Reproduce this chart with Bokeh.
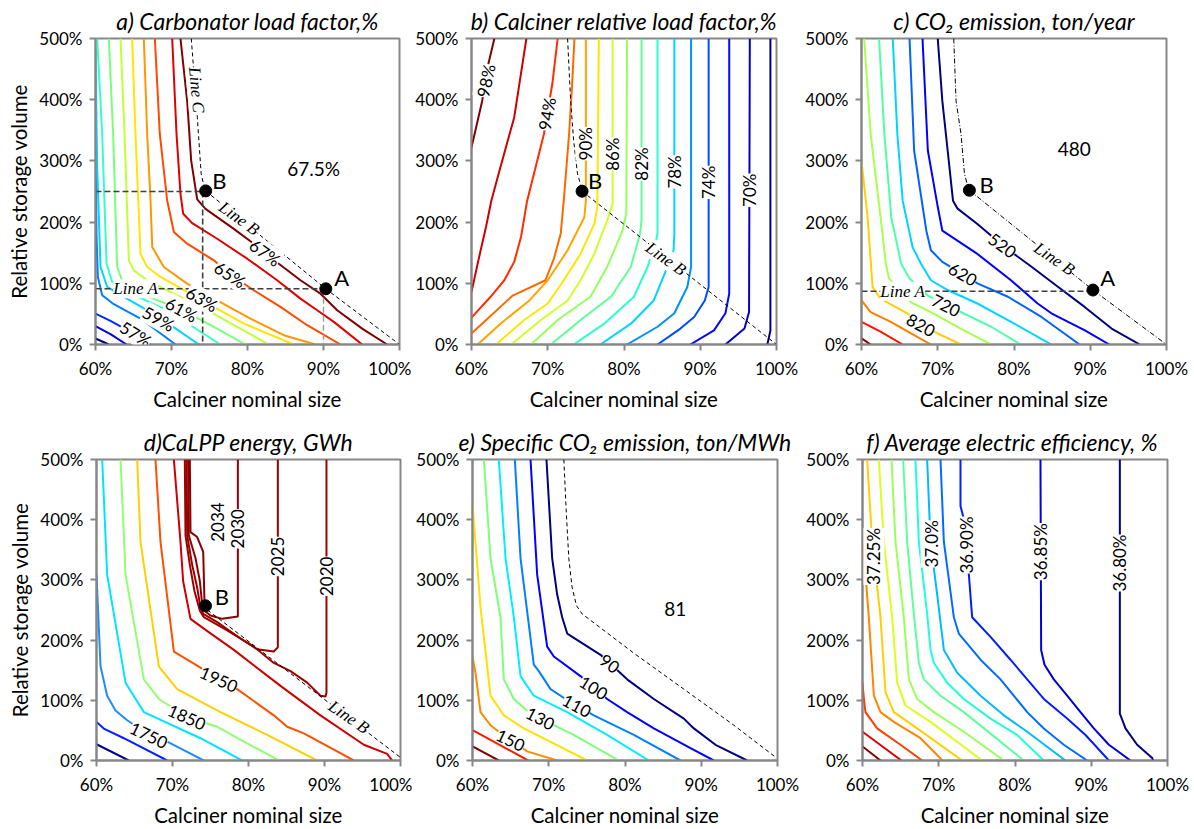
import math
from bokeh.plotting import figure
from bokeh.models import ColumnDataSource, LabelSet, Range1d, FixedTicker
from bokeh.layouts import column, row
from bokeh.embed import file_html
from bokeh.resources import INLINE
from bokeh.core.properties import value

SANS = "Lato"
SERIF = "Liberation Serif"
GRAY = "#878787"
V = math.pi / 2

X_TICKS = [60, 70, 80, 90, 100]
X_TICK_LABELS = ["60%", "70%", "80%", "90%", "100%"]
Y_TICKS = [0, 100, 200, 300, 400, 500]
Y_TICK_LABELS = ["0%", "100%", "200%", "300%", "400%", "500%"]
X_TITLE = "Calciner nominal size"
Y_TITLE = "Relative storage volume"
TITLES = ["a) Carbonator load factor,%", "b) Calciner relative load factor,%",
          "c) CO\u2082 emission, ton/year", "d)CaLPP energy, GWh",
          "e) Specific CO\u2082 emission, ton/MWh", "f) Average electric  efficiency, %"]

# ---------------- panel a : carbonator load factor (levels 55..67 %) ----------------
A_LEVELS = [55, 56, 57, 58, 59, 60, 61, 62, 63, 64, 65, 66, 67]
A_COLORS = ["#00007F", "#0000E0", "#002BFF", "#0080FF", "#00D4FF", "#36FFC6", "#7BFF7B",
            "#C1FF36", "#FFE500", "#FF9700", "#FF4A00", "#E00000", "#7F0000"]
A_X = [
    [60.0, 61.75],
    [60.0, 61.97, 64.1],
    [60.0, 61.97, 64.17, 67.24],
    [60.0, 60.13, 60.31, 60.88, 62.41, 65.92, 70.53],
    [60.0, 60.22, 60.66, 61.54, 63.73, 68.33, 73.6],
    [60.22, 60.88, 61.45, 62.19, 64.17, 69.43, 76.45],
    [61.75, 62.32, 62.85, 63.51, 65.92, 71.32, 75.57, 79.74],
    [63.29, 63.82, 64.39, 65.04, 66.8, 70.31, 74.69, 82.81],
    [64.82, 65.26, 65.92, 66.8, 68.55, 72.06, 75.57, 79.52, 86.1],
    [66.36, 66.8, 67.24, 67.46, 68.99, 72.06, 76.01, 80.39, 84.78, 88.95],
    [67.81, 68.46, 69.43, 70.31, 72.06, 75.57, 77.76, 80.83, 84.34, 87.85, 92.24],
    [70.09, 70.66, 71.18, 71.54, 72.72, 76.01, 79.96, 83.9, 86.97, 89.17, 91.36, 95.09],
    [71.18, 72.06, 72.59, 73.38, 74.47, 78.2, 80.83, 84.12, 86.97, 89.6, 91.8, 95.09, 98.38],
]
A_Y = [
    [9.8, 0],
    [29.9, 16.8, 0],
    [50.5, 38.6, 23.4, 0],
    [349.5, 181, 110.3, 80.4, 65.8, 42.4, 0],
    [480, 289.7, 126.6, 94, 77.7, 45.1, 0],
    [500, 344, 132, 102.2, 85.9, 56, 0],
    [500, 344, 126.6, 104.9, 83.2, 57, 28.8, 0],
    [500, 344, 137.5, 121.2, 104.9, 83.2, 56, 0],
    [500, 344, 148.4, 126.6, 110.3, 85.9, 61.4, 34.2, 0],
    [500, 344, 235.3, 159.2, 126.6, 99.5, 72.3, 42.4, 15.2, 0],
    [500, 344, 235.3, 183.7, 164.7, 137.5, 114, 88.6, 61.4, 31.5, 0],
    [500, 344, 246, 213.6, 198.4, 172.8, 140.2, 104.9, 75, 56, 37, 0],
    [500, 398, 300.5, 237, 221.7, 189, 164.7, 132, 105, 83, 56, 26, 0],
]
A_LBL_TEXT = ["57%", "59%", "61%", "63%", "65%", "67%"]
A_LBL_X = [65.3, 68.3, 71.3, 74.0, 77.7, 82.3]
A_LBL_Y = [17, 42, 57, 74, 114, 150]
A_LBL_ANGLE = [-0.55, -0.5, -0.5, -0.52, -0.58, -0.62]
A_PTS_X = [74.5, 90.3]
A_PTS_Y = [251, 91]
A_LINE_B_X = [74.5, 90.3, 100]
A_LINE_B_Y = [251, 91, 0]
A_LINE_C_X = [72.6, 73.4, 73.9, 74.4]
A_LINE_C_Y = [500, 371, 279, 252]
A_GUIDES_X = [[60, 74.1], [74.1, 74.1], [60, 90.3]]
A_GUIDES_Y = [[250, 250], [250, 0], [91, 91]]
A_GUIDE_LIGHT_X = [90.0, 90.0]
A_GUIDE_LIGHT_Y = [91, 0]
A_TXT = ["67.5%", "B", "A"]
A_TXT_X = [88.7, 76.3, 92.4]
A_TXT_Y = [287, 268, 110]
A_TXT_SIZE = ["19px", "22px", "22px"]
A_SERIF = ["Line A", "Line B", "Line C"]
A_SERIF_X = [65.3, 78.9, 73.3]
A_SERIF_Y = [91, 206, 416]
A_SERIF_ANGLE = [0, -0.62, -1.48]

# ---------------- panel b : calciner relative load factor (68..98 %) ----------------
B_LEVELS = [68, 70, 72, 74, 76, 78, 80, 82, 84, 86, 88, 90, 92, 94, 96, 98]
B_COLORS = ["#000080", "#0000CC", "#0008FF", "#004CFF", "#0090FF", "#00D4FF", "#29FFCE", "#60FF96",
            "#96FF60", "#CEFF29", "#FFE600", "#FFA400", "#FF6800", "#FF2D00", "#CD0000", "#800000"]
B_X = [
    [99.2, 99.2, 98.8],
    [96.5, 96.4, 95.8, 93.3],
    [93.8, 93.8, 93.3, 91.8, 88.7],
    [91.1, 91.1, 90.6, 89.2, 87.4, 84.4],
    [88.8, 88.8, 88.3, 86.6, 84.4, 80.4],
    [86.6, 86.6, 86.5, 85.7, 83.9, 80.9, 76.9],
    [84.4, 84.4, 84.1, 83.1, 81.3, 77.4, 73.4],
    [82.3, 82.3, 82.1, 80.9, 78.3, 74.8, 70.4],
    [80.4, 80.3, 79.8, 77.8, 75.6, 71.3, 67.8],
    [78.5, 78.5, 77.8, 76.1, 74.3, 72.6, 69.1, 65.2],
    [76.7, 76.5, 76.1, 74.3, 72.1, 70.0, 66.9, 63.2],
    [75.0, 75.0, 74.8, 72.6, 70.0, 67.6, 63.8, 60.8],
    [73.5, 73.2, 72.8, 72.1, 71.7, 70.8, 69.7, 65.4, 60.0],
    [71.3, 70.6, 69.5, 67.3, 66.5, 65.6, 64.3, 62.5, 60.0],
    [67.2, 65.6, 63.8, 62.6, 61.9, 61.0, 60.0],
    [63.0, 62.2, 61.4, 60.0],
]
B_Y = [
    [500, 23, 0],
    [500, 53, 26, 0],
    [500, 83, 51, 23, 0],
    [500, 94, 72, 45, 26, 0],
    [500, 127, 94, 51, 29, 0],
    [500, 181, 154, 127, 72, 34, 0],
    [500, 181, 165, 127, 78, 34, 0],
    [500, 203, 181, 127, 78, 45, 0],
    [500, 214, 186, 127, 78, 40, 0],
    [500, 230, 203, 148, 105, 72, 40, 0],
    [500, 224, 197, 148, 105, 67, 40, 0],
    [500, 235, 208, 154, 105, 72, 34, 0],
    [500, 426, 344, 235, 181, 140, 105, 80, 18],
    [500, 426, 344, 235, 176, 135, 105, 78, 44],
    [500, 371, 290, 235, 192, 143, 86],
    [500, 458, 398, 322],
]
B_LBL_TEXT = ["98%", "94%", "90%", "86%", "82%", "78%", "74%", "70%"]
B_LBL_X = [61.9, 69.9, 75.0, 78.5, 82.3, 86.6, 91.1, 96.5]
B_LBL_Y = [431, 377, 328, 311, 295, 282, 265, 252]
B_LBL_ANGLE = [1.36, 1.4, V, V, V, V, V, V]
B_PTS_X = [74.5]
B_PTS_Y = [250.5]
B_LINE_B_X = [74.5, 100]
B_LINE_B_Y = [250.5, 0]
B_LINE_C_X = [72.6, 73.0, 73.4, 73.9, 74.4]
B_LINE_C_Y = [500, 398, 333, 279, 257]
B_TXT = ["B"]
B_TXT_X = [76.2]
B_TXT_Y = [268]
B_TXT_SIZE = ["22px"]
B_SERIF = ["Line B"]
B_SERIF_X = [85.5]
B_SERIF_Y = [140]
B_SERIF_ANGLE = [-0.62]

# ---------------- panel c : CO2 emission (520..970 ton/year) ----------------
C_LEVELS = [520, 570, 620, 670, 720, 770, 820, 870, 920, 970]
C_COLORS = ["#000080", "#0000FF", "#0063FF", "#00D4FF", "#4DFFA9", "#A9FF4D", "#FFD000",
            "#FF7D00", "#FF1400", "#800000"]
C_X = [
    [70.0, 70.6, 71.3, 72.0, 72.6, 75.2, 78.8, 82.3, 85.8, 89.3, 92.8, 96.5],
    [68.0, 68.7, 70.0, 70.6, 75.2, 79.6, 83.1, 84.9, 89.3, 92.5],
    [66.3, 66.9, 68.5, 69.1, 70.6, 71.7, 75.2, 79.2, 83.6, 88.6],
    [64.1, 64.7, 65.4, 66.7, 67.8, 69.1, 71.3, 75.2, 79.2, 84.9],
    [62.3, 63.0, 63.9, 65.2, 66.3, 68.7, 71.7, 77.0, 80.9],
    [60.35, 61.2, 62.5, 63.2, 63.6, 66.5, 69.1, 73.0, 77.0],
    [60.0, 60.8, 61.2, 61.45, 62.3, 63.2, 66.0, 67.8, 70.0, 73.05],
    [60.0, 61.2, 63.85, 66.5, 69.1],
    [60.0, 62.5, 65.4],
    [60.0, 61.2],
]
C_Y = [
    [500, 398, 317, 235, 222, 197, 159, 127, 94, 61, 26, 0],
    [500, 317, 225, 186, 148, 105, 67, 51, 23, 0],
    [500, 317, 186, 154, 135, 127, 100, 78, 45, 0],
    [500, 344, 235, 159, 132, 105, 89, 67, 40, 0],
    [500, 344, 208, 132, 108, 80, 61, 29, 0],
    [500, 344, 208, 132, 108, 69, 53, 26, 0],
    [300, 208, 138, 94, 78, 70, 51, 32, 18, 0],
    [72, 53, 37, 18, 0],
    [37, 21, 0],
    [10, 0],
]
C_LBL_TEXT = ["520", "620", "720", "820"]
C_LBL_X = [78.5, 73.3, 71.1, 67.8]
C_LBL_Y = [162, 115, 64, 32]
C_LBL_ANGLE = [-0.62, -0.52, -0.47, -0.5]
C_PTS_X = [74.15, 90.35]
C_PTS_Y = [252, 89]
C_LINE_B_X = [74.15, 90.35, 100]
C_LINE_B_Y = [252, 89, 0]
C_LINE_C_X = [72.1, 72.4, 73.05, 73.5, 73.9]
C_LINE_C_Y = [500, 398, 344, 279, 260]
C_LINE_A_X = [60, 90.35]
C_LINE_A_Y = [87, 87]
C_TXT = ["480", "B", "A"]
C_TXT_X = [87.9, 76.4, 92.3]
C_TXT_Y = [320, 262, 110]
C_TXT_SIZE = ["19px", "22px", "22px"]
C_SERIF = ["Line A", "Line B"]
C_SERIF_X = [65.4, 85.3]
C_SERIF_Y = [87, 140]
C_SERIF_ANGLE = [0, -0.6]

# ---------------- panel d : CaLPP energy (GWh) ----------------
D_LEVELS = [1650, 1700, 1750, 1800, 1850, 1900, 1950, 2000, 2020, 2025, 2030, 2034]
D_COLORS = ["#00008F", "#0020FF", "#1E8CFF", "#00E5FF", "#90FF70", "#FFD000", "#FF5000",
            "#CC0000", "#A00000", "#9A0000", "#900000", "#880000"]
D_X = [
    [60.0, 64.25],
    [60.0, 60.96, 63.6, 69.3],
    [60.0, 60.53, 61.4, 62.5, 64.04, 66.9, 69.3, 74.12],
    [60.75, 61.4, 63.82, 66.23, 73.68, 79.17],
    [63.16, 63.82, 66.23, 68.2, 71.93, 75.88, 83.99],
    [65.35, 65.79, 68.2, 70.61, 76.32, 82.46, 89.04],
    [67.76, 68.42, 70.18, 74.12, 78.51, 83.33, 85.09, 87.28, 93.86],
    [70.18, 71.05, 71.4, 72.37, 74.12, 78.07, 84.21, 89.47, 95.18, 98.25, 98.9],
    [71.62, 71.71, 72.28, 72.89, 73.6, 74.12, 77.19, 80.7, 83.33, 85.53, 87.72, 89.47, 90.13, 90.26, 90.26],
    [71.84, 71.93, 72.59, 73.25, 73.68, 74.04, 75.88, 78.95, 81.14, 83.33, 83.86, 83.86],
    [72.06, 72.15, 73.03, 73.6, 73.9, 74.21, 75.0, 76.54, 78.6, 78.6],
    [72.28, 72.37, 73.25, 74.04, 74.21, 74.34],
]
D_Y = [
    [27, 0],
    [64, 53, 37, 0],
    [308.7, 156.5, 107.6, 83.2, 66.8, 42.4, 31.5, 0],
    [500, 308.7, 129.3, 80.4, 37, 0],
    [500, 308.7, 134.8, 102.2, 72.3, 56, 0],
    [500, 363, 156.5, 118.5, 80.4, 42.4, 0],
    [500, 363, 181, 151.1, 118.5, 75, 56, 45.1, 0],
    [500, 363, 297.8, 235.3, 219, 183.7, 123.9, 75, 26.1, 10.9, 0],
    [500, 373.9, 325, 281.5, 248.9, 238, 216.3, 189.1, 162, 148.4, 129.3, 107.6, 106.5, 113, 500],
    [500, 373.9, 325, 287, 254.3, 243.5, 229.9, 202.7, 184.8, 181, 188, 500],
    [500, 373.9, 335.9, 297.8, 259.8, 248.9, 240.8, 235.3, 239.1, 500],
    [500, 379.3, 371.2, 346.7, 262.5, 255.4],
]
D_LBL_TEXT = ["1750", "1850", "1950", "2034", "2030", "2025", "2020"]
D_LBL_X = [66.9, 71.9, 76.1, 75.9, 78.6, 83.86, 90.26]
D_LBL_Y = [42, 72, 135, 396, 385, 339, 306]
D_LBL_ANGLE = [-0.45, -0.42, -0.42, V, V, V, V]
D_PTS_X = [74.34]
D_PTS_Y = [257]
D_LINE_B_X = [74.6, 100]
D_LINE_B_Y = [250, 5]
D_TXT = ["B"]
D_TXT_X = [76.5]
D_TXT_Y = [272]
D_TXT_SIZE = ["22px"]
D_SERIF = ["Line B"]
D_SERIF_X = [93.2]
D_SERIF_Y = [72]
D_SERIF_ANGLE = [-0.6]

# ---------------- panel e : specific CO2 emission (ton/MWh) ----------------
E_LEVELS = [90, 100, 110, 120, 130, 140, 150, 160, 170]
E_COLORS = ["#000080", "#0000FF", "#0080FF", "#00EEFF", "#7DFF7A", "#FFE000", "#FF8C00",
            "#FF1A00", "#800000"]
E_X = [
    [69.7, 70.45, 71.1, 71.76, 72.42, 76.79, 80.28, 83.78, 87.72, 89.03, 91.87, 96.02],
    [67.61, 68.48, 69.79, 70.67, 74.16, 77.66, 80.28, 83.78, 88.59, 91.65],
    [65.55, 66.3, 68.04, 68.7, 70.23, 72.2, 75.91, 81.16, 87.28],
    [63.45, 64.33, 65.42, 66.3, 68.04, 72.42, 77.66, 83.13],
    [61.49, 62.36, 63.67, 64.11, 65.42, 67.61, 73.29, 79.19],
    [60.0, 61.05, 62.36, 64.11, 66.73, 75.04],
    [60.0, 60.39, 61.05, 62.36, 63.45, 67.17, 71.1],
    [60.0, 62.36, 67.3],
    [60.0, 63.45],
]
E_Y = [
    [500, 335.9, 276.1, 238, 210.9, 175.5, 134.8, 102.2, 69.6, 53.3, 26.1, 0],
    [500, 308.7, 189.1, 172.8, 140.2, 102.2, 80.4, 53.3, 20.7, 0],
    [500, 335.9, 159.2, 148.4, 118.5, 102.2, 75, 42.4, 0],
    [500, 335.9, 238, 140.2, 107.6, 80.4, 42.4, 0],
    [500, 335.9, 238, 134.8, 102.2, 77.7, 42.4, 0],
    [425.5, 254.3, 107.6, 75, 53.3, 0],
    [172.8, 145.7, 80.4, 58.7, 47.8, 15.2, 0],
    [50.5, 34.2, 0],
    [23.4, 0],
]
E_LBL_TEXT = ["90", "100", "110", "130", "150"]
E_LBL_X = [78.0, 75.9, 73.7, 68.9, 65.0]
E_LBL_Y = [161, 121, 91, 70, 34]
E_LBL_ANGLE = [-0.62, -0.55, -0.5, -0.48, -0.45]
E_BOUND_X = [71.98, 72.28, 72.63, 73.07, 73.64, 74.38, 81.16, 87.72, 94.27, 99.87]
E_BOUND_Y = [500, 417.4, 335.9, 287, 257.1, 243.5, 178.3, 118.5, 58.7, 4.3]
E_TXT = ["81"]
E_TXT_X = [86.6]
E_TXT_Y = [252]
E_TXT_SIZE = ["19px"]

# ---------------- panel f : average electric efficiency (%) ----------------
F_LEVELS = [36.80, 36.85, 36.90, 36.95, 37.00, 37.05, 37.10, 37.15, 37.20, 37.25, 37.30, 37.35, 37.40, 37.45]
F_COLORS = ["#000080", "#0000DA", "#001EFF", "#006CFF", "#00BBFF", "#1CFFDA", "#5BFF9B",
            "#9BFF5B", "#DAFF1C", "#FFCF00", "#FF8500", "#FF3D00", "#DA0000", "#800000"]
F_X = [
    [93.75, 93.75, 94.49, 96.02, 97.99, 98.12],
    [83.34, 83.43, 83.87, 85.09, 86.84, 88.59, 90.34, 92.31, 95.15],
    [72.85, 72.85, 73.29, 73.95, 74.38, 76.79, 79.41, 81.6, 83.78, 86.84, 89.25, 92.31],
    [70.23, 70.67, 71.98, 72.63, 75.48, 78.1, 81.6, 83.78, 86.4, 89.46],
    [68.48, 68.92, 69.79, 70.67, 72.42, 75.48, 78.54, 81.6, 86.62],
    [66.95, 67.39, 68.48, 68.92, 69.36, 71.1, 73.29, 76.79, 80.28, 83.78],
    [65.33, 65.86, 66.73, 67.39, 68.04, 70.23, 73.29, 81.16],
    [63.8, 64.33, 65.42, 66.08, 67.17, 69.36, 73.29, 78.54],
    [62.14, 62.8, 63.89, 64.55, 65.64, 68.92, 75.69],
    [60.61, 61.27, 62.36, 63.02, 64.11, 67.17, 73.07],
    [60.0, 60.39, 60.83, 61.49, 62.36, 64.11, 67.61, 70.5],
    [60.0, 60.2, 60.39, 61.92, 64.98, 67.83],
    [60.0, 65.1],
    [60.0, 62.36],
]
F_Y = [
    [500, 77.7, 53.3, 26.1, 4.3, 0],
    [500, 183.7, 159.2, 134.8, 107.6, 80.4, 53.3, 26.1, 0],
    [500, 422.8, 401.1, 308.7, 238, 205.4, 167.4, 134.8, 102.2, 69.6, 42.4, 0],
    [500, 363, 238, 210.9, 167.4, 134.8, 80.4, 53.3, 26.1, 0],
    [500, 363, 276.1, 183.7, 145.7, 107.6, 75, 47.8, 0],
    [500, 363, 243.5, 183.7, 162, 129.3, 102.2, 69.6, 42.4, 0],
    [500, 363, 243.5, 162, 134.8, 107.6, 80.4, 0],
    [500, 363, 238, 134.8, 102.2, 80.4, 47.8, 0],
    [500, 363, 238, 129.3, 91.3, 64.1, 0],
    [500, 363, 238, 113, 80.4, 53.3, 0],
    [363, 308.7, 238, 107.6, 80.4, 64.1, 37, 0],
    [129.3, 100, 80.4, 53.3, 26.1, 0],
    [47.8, 0],
    [23.4, 0],
]
F_LBL_TEXT = ["37.25%", "37.0%", "36.90%", "36.85%", "36.80%"]
F_LBL_X = [61.5, 69.0, 73.6, 83.4, 93.75]
F_LBL_Y = [339, 360, 358, 347, 328]
F_LBL_ANGLE = [V, V, V, V, V]


def make_panel(idx, xs, ys, colors, lbl, width, height, bl, br, bt, bb, ylabel):
    p = figure(width=width, height=height, x_range=Range1d(60, 100), y_range=Range1d(0, 500),
               output_backend="svg", toolbar_location=None,
               min_border_left=bl, min_border_right=br, min_border_top=bt, min_border_bottom=bb)
    p.title.text = TITLES[idx]
    p.title.text_font = SANS
    p.title.text_font_style = "italic"
    p.title.text_font_size = "23px"
    p.title.text_color = "black"
    p.title.align = "center"
    p.title.standoff = 8
    p.background_fill_color = "white"
    p.border_fill_color = "white"
    p.outline_line_color = GRAY
    p.outline_line_width = 2
    p.xgrid.grid_line_color = None
    p.ygrid.grid_line_color = None
    for ax, ticks, labels in ((p.xaxis[0], X_TICKS, X_TICK_LABELS), (p.yaxis[0], Y_TICKS, Y_TICK_LABELS)):
        ax.ticker = FixedTicker(ticks=ticks)
        ax.major_label_overrides = {t: s for t, s in zip(ticks, labels)}
        ax.axis_line_color = GRAY
        ax.axis_line_width = 2
        ax.major_tick_line_color = GRAY
        ax.major_tick_line_width = 2
        ax.major_tick_in = 0
        ax.major_tick_out = 6
        ax.minor_tick_line_color = None
        ax.major_label_text_font = SANS
        ax.major_label_text_font_size = "17px"
        ax.major_label_text_color = "black"
        ax.major_label_standoff = 7
        ax.axis_label_text_font = SANS
        ax.axis_label_text_font_size = "20.5px"
        ax.axis_label_text_font_style = "normal"
        ax.axis_label_text_color = "black"
        ax.axis_label_standoff = 5
    p.xaxis.axis_label = X_TITLE
    if ylabel:
        p.yaxis.axis_label = Y_TITLE
    src = ColumnDataSource(dict(xs=xs, ys=ys, color=colors))
    p.multi_line(xs="xs", ys="ys", line_color="color", line_width=2, source=src)
    lsrc = ColumnDataSource(dict(x=lbl[1], y=lbl[2], text=lbl[0], angle=lbl[3]))
    p.add_layout(LabelSet(x="x", y="y", text="text", angle="angle", source=lsrc,
                          text_align="center", text_baseline="middle",
                          text_font=value(SANS), text_font_size=value("17px"),
                          text_color="black", background_fill_color="white"))
    return p


def add_dashed(p, x, y, dash="4 3", color="black", width=1.0):
    p.line(x, y, line_dash=dash, line_color=color, line_width=width)


def add_points(p, x, y):
    p.scatter(x, y, size=12, color="black")


def add_texts(p, t, x, y, sizes):
    src = ColumnDataSource(dict(x=x, y=y, text=t, size=sizes))
    p.add_layout(LabelSet(x="x", y="y", text="text", source=src, text_align="center",
                          text_baseline="middle", text_font=value(SANS),
                          text_font_size="size", text_color="black"))


def add_serif(p, t, x, y, ang):
    src = ColumnDataSource(dict(x=x, y=y, text=t, angle=ang))
    p.add_layout(LabelSet(x="x", y="y", text="text", angle="angle", source=src,
                          text_align="center", text_baseline="middle",
                          text_font=value(SERIF), text_font_style="italic",
                          text_font_size=value("17px"), text_color="black",
                          background_fill_color="white"))


# panel a
pa = make_panel(0, A_X, A_Y, A_COLORS, (A_LBL_TEXT, A_LBL_X, A_LBL_Y, A_LBL_ANGLE),
                411, 419, 95, 12, 38, 75, True)
for gx, gy in zip(A_GUIDES_X, A_GUIDES_Y):
    add_dashed(pa, gx, gy, dash="6 3", color="#404040", width=1.6)
add_dashed(pa, A_GUIDE_LIGHT_X, A_GUIDE_LIGHT_Y, dash="6 3", color="#9a9a9a", width=1.4)
add_dashed(pa, A_LINE_B_X, A_LINE_B_Y)
add_dashed(pa, A_LINE_C_X, A_LINE_C_Y)
add_points(pa, A_PTS_X, A_PTS_Y)
add_texts(pa, A_TXT, A_TXT_X, A_TXT_Y, A_TXT_SIZE)
add_serif(pa, A_SERIF, A_SERIF_X, A_SERIF_Y, A_SERIF_ANGLE)

# panel b
pb = make_panel(1, B_X, B_Y, B_COLORS, (B_LBL_TEXT, B_LBL_X, B_LBL_Y, B_LBL_ANGLE),
                390, 419, 60, 25, 38, 75, False)
add_dashed(pb, B_LINE_B_X, B_LINE_B_Y)
add_dashed(pb, B_LINE_C_X, B_LINE_C_Y)
add_points(pb, B_PTS_X, B_PTS_Y)
add_texts(pb, B_TXT, B_TXT_X, B_TXT_Y, B_TXT_SIZE)
add_serif(pb, B_SERIF, B_SERIF_X, B_SERIF_Y, B_SERIF_ANGLE)

# panel c
pc = make_panel(2, C_X, C_Y, C_COLORS, (C_LBL_TEXT, C_LBL_X, C_LBL_Y, C_LBL_ANGLE),
                393, 419, 60, 28, 38, 75, False)
add_dashed(pc, C_LINE_A_X, C_LINE_A_Y, dash="6 3", color="#404040", width=1.6)
add_dashed(pc, C_LINE_B_X, C_LINE_B_Y, dash="5 2 1 2")
add_dashed(pc, C_LINE_C_X, C_LINE_C_Y, dash="5 2 1 2")
add_points(pc, C_PTS_X, C_PTS_Y)
add_texts(pc, C_TXT, C_TXT_X, C_TXT_Y, C_TXT_SIZE)
add_serif(pc, C_SERIF, C_SERIF_X, C_SERIF_Y, C_SERIF_ANGLE)

# panel d
pd_ = make_panel(3, D_X, D_Y, D_COLORS, (D_LBL_TEXT, D_LBL_X, D_LBL_Y, D_LBL_ANGLE),
                 412, 410, 96, 12, 40, 63, True)
add_dashed(pd_, D_LINE_B_X, D_LINE_B_Y)
add_points(pd_, D_PTS_X, D_PTS_Y)
add_texts(pd_, D_TXT, D_TXT_X, D_TXT_Y, D_TXT_SIZE)
add_serif(pd_, D_SERIF, D_SERIF_X, D_SERIF_Y, D_SERIF_ANGLE)

# panel e
pe = make_panel(4, E_X, E_Y, E_COLORS, (E_LBL_TEXT, E_LBL_X, E_LBL_Y, E_LBL_ANGLE),
                390, 410, 60, 25, 40, 63, False)
add_dashed(pe, E_BOUND_X, E_BOUND_Y)
add_texts(pe, E_TXT, E_TXT_X, E_TXT_Y, E_TXT_SIZE)

# panel f
pf = make_panel(5, F_X, F_Y, F_COLORS, (F_LBL_TEXT, F_LBL_X, F_LBL_Y, F_LBL_ANGLE),
                392, 410, 60, 27, 40, 63, False)

layout = column(row(pa, pb, pc, spacing=0), row(pd_, pe, pf, spacing=0), spacing=0)

with open("out.html", "w") as fh:
    fh.write(file_html(layout, INLINE))
